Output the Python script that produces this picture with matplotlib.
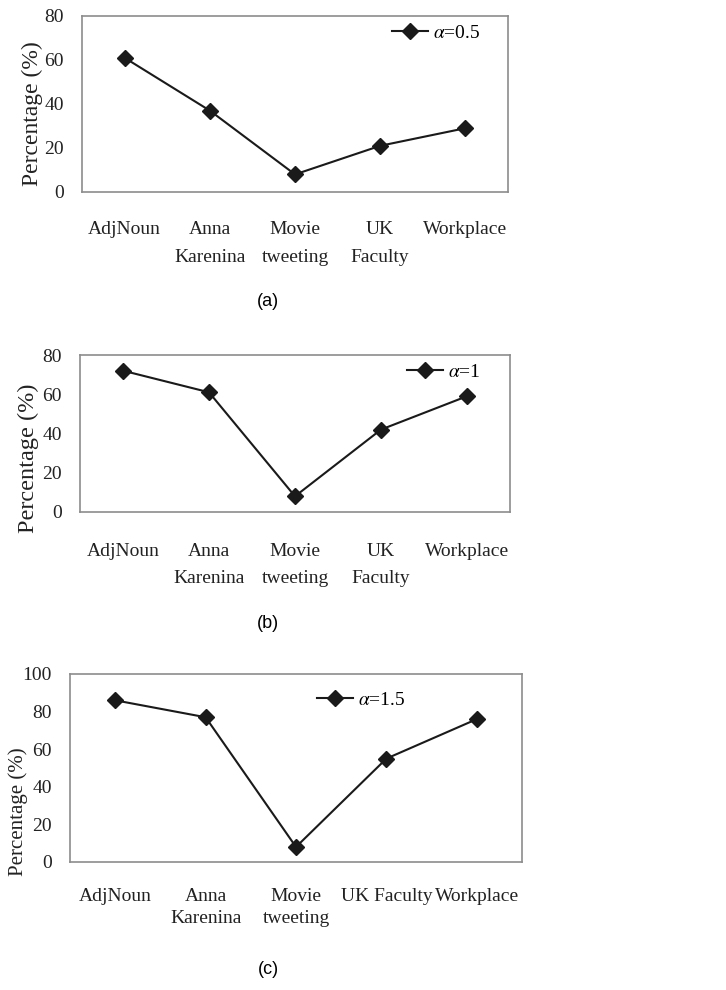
import numpy as np
from matplotlib import pyplot as plt

plt.rcParams['font.family'] = ['Liberation Serif', 'DejaVu Serif']
plt.rcParams['mathtext.fontset'] = 'stix'

cats_ab = ['AdjNoun', 'Anna\nKarenina', 'Movie\ntweeting', 'UK\nFaculty', 'Workplace']
cats_c = ['AdjNoun', 'Anna\nKarenina', 'Movie\ntweeting', 'UK Faculty', 'Workplace']
alpha05 = [61, 37, 8, 21, 29]
alpha1 = [72, 61, 8, 42, 59]
alpha15 = [86, 77, 8, 55, 76]

W, H = 726, 990
fig = plt.figure(figsize=(W / 100, H / 100), dpi=100)


def px_axes(left, top, right, bottom):
    return fig.add_axes([left / W, 1 - bottom / H, (right - left) / W, (bottom - top) / H])


# per panel: box in pixels, data, legend anchor, ylabel spot, label spacing, caption y
panels = [
    dict(box=(82, 16, 508, 192), vals=alpha05, cats=cats_ab, ymax=80, lab=r'$\alpha$=0.5',
         leg=(0.728, 0.903), ylab=(-0.117, 0.443), ysize=17, ls=1.8, xpad=21, cap='(a)', capy=302),
    dict(box=(80, 355, 510, 512), vals=alpha1, cats=cats_ab, ymax=80, lab=r'$\alpha$=1',
         leg=(0.760, 0.892), ylab=(-0.121, 0.344), ysize=17.5, ls=1.8, xpad=22, cap='(b)', capy=623),
    dict(box=(70, 674, 522, 862), vals=alpha15, cats=cats_c, ymax=100, lab=r'$\alpha$=1.5',
         leg=(0.546, 0.862), ylab=(-0.115, 0.27), ysize=15, ls=1.35, xpad=19, cap='(c)', capy=970),
]

for p in panels:
    ax = px_axes(*p['box'])
    x = np.arange(len(p['cats'])) + 0.5
    ax.plot(x, p['vals'], color='#1a1a1a', lw=1.5, marker='D', markersize=8, label=p['lab'])
    ax.set_xlim(0, 5)
    ax.set_ylim(0, p['ymax'])
    ax.set_yticks(np.arange(0, p['ymax'] + 1, 20))
    ax.set_xticks(x)
    ax.set_xticklabels(p['cats'], fontsize=14, linespacing=p['ls'], color='#222222')
    for t in ax.get_yticklabels():
        t.set_fontsize(14)
        t.set_color('#222222')
    ax.tick_params(axis='both', length=0)
    ax.tick_params(axis='y', pad=13)
    ax.tick_params(axis='x', pad=p['xpad'])
    for s in ax.spines.values():
        s.set_color('#8c8c8c')
        s.set_linewidth(1.2)
    ax.set_ylabel('Percentage (%)', fontsize=p['ysize'], color='#222222')
    ax.yaxis.label.set_va('center')
    ax.yaxis.set_label_coords(*p['ylab'])
    ax.legend(loc='center left', bbox_to_anchor=p['leg'], frameon=False, fontsize=14,
              handlelength=1.85, handletextpad=0.25, borderpad=0, borderaxespad=0)
    fig.text(268 / W, 1 - p['capy'] / H, p['cap'], family='Liberation Sans', fontsize=13,
             ha='center', va='center')

fig.savefig('out.png', dpi=100)
